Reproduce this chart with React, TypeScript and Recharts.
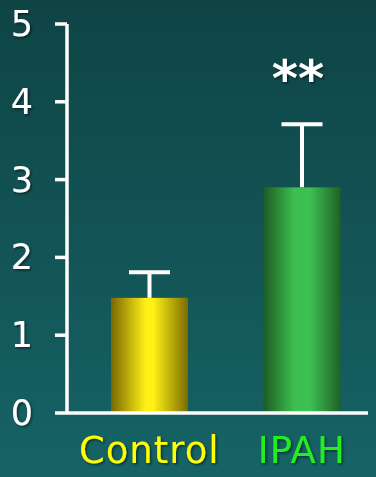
import { Bar, BarChart, XAxis, YAxis } from "recharts"

const categories = ["Control", "IPAH"]
const means = [1.48, 2.9]
const errors = [0.33, 0.81]
const marks = ["", "**"]
const yTicks = [0, 1, 2, 3, 4, 5]
const labelColors = ["#ffff00", "#22ee22"]

const data = categories.map((name, i) => ({
  name,
  mean: means[i],
  err: errors[i],
  mark: marks[i],
}))

const font = "'DejaVu Sans', sans-serif"

function BarShape(props: any) {
  const { x, y, width, height, index, payload } = props
  const cx = x + width / 2
  const perUnit = height / payload.mean
  const errTop = y - payload.err * perUnit
  return (
    <g>
      <line x1={cx} x2={cx} y1={y} y2={errTop} stroke="#ffffff" strokeWidth={4} />
      <line x1={cx - 20.5} x2={cx + 20.5} y1={errTop} y2={errTop} stroke="#ffffff" strokeWidth={4} />
      <rect x={x} y={y} width={width} height={height} fill={`url(#bar${index})`} />
      {payload.mark ? (
        <text
          x={cx - 4}
          y={errTop - 28}
          textAnchor="middle"
          fill="#ffffff"
          fontSize={50}
          fontWeight="bold"
          fontFamily={font}
          filter="url(#shadow)"
        >
          {payload.mark}
        </text>
      ) : null}
    </g>
  )
}

function XTick(props: any) {
  const { x, y, payload, index } = props
  return (
    <text
      x={x}
      y={y + 48}
      textAnchor="middle"
      fill={labelColors[index]}
      fontSize={37}
      fontFamily={font}
      letterSpacing={1}
      filter="url(#shadow)"
    >
      {payload.value}
    </text>
  )
}

function YTick(props: any) {
  const { x, y, payload } = props
  return (
    <text
      x={x}
      y={y}
      textAnchor="end"
      dominantBaseline="central"
      fill="#ffffff"
      fontSize={35}
      fontFamily={font}
      filter="url(#shadow)"
    >
      {payload.value}
    </text>
  )
}

export default function App() {
  return (
    <div
      style={{
        position: "absolute",
        left: 0,
        top: 0,
        width: 376,
        height: 477,
        background: "linear-gradient(#0f4445, #166366)",
      }}
    >
      <BarChart width={376} height={477} data={data} margin={{ top: 24, right: 8, left: 0, bottom: 0 }} barSize={77}>
        <defs>
          <linearGradient id="bar0" x1="0" y1="0" x2="1" y2="0">
            <stop offset="0%" stopColor="#786800" />
            <stop offset="45%" stopColor="#fff016" />
            <stop offset="55%" stopColor="#fff016" />
            <stop offset="100%" stopColor="#7a6c00" />
          </linearGradient>
          <linearGradient id="bar1" x1="0" y1="0" x2="1" y2="0">
            <stop offset="0%" stopColor="#1d5c25" />
            <stop offset="40%" stopColor="#3cbf50" />
            <stop offset="60%" stopColor="#3dc152" />
            <stop offset="100%" stopColor="#1e6226" />
          </linearGradient>
          <filter id="shadow" x="-20%" y="-20%" width="140%" height="140%">
            <feDropShadow dx="1.5" dy="1.5" stdDeviation="1" floodColor="#000000" floodOpacity="0.5" />
          </filter>
        </defs>
        <XAxis
          dataKey="name"
          height={64}
          padding={{ left: 6, right: -10 }}
          axisLine={{ stroke: "#ffffff", strokeWidth: 3.5 }}
          tickLine={false}
          tickSize={0}
          tick={<XTick />}
        />
        <YAxis
          width={67}
          domain={[0, 5]}
          ticks={yTicks}
          interval={0}
          axisLine={{ stroke: "#ffffff", strokeWidth: 3.5 }}
          tickLine={{ stroke: "#ffffff", strokeWidth: 3.5 }}
          tickSize={12}
          tickMargin={22}
          tick={<YTick />}
        />
        <Bar dataKey="mean" shape={<BarShape />} isAnimationActive={false} />
      </BarChart>
    </div>
  )
}
